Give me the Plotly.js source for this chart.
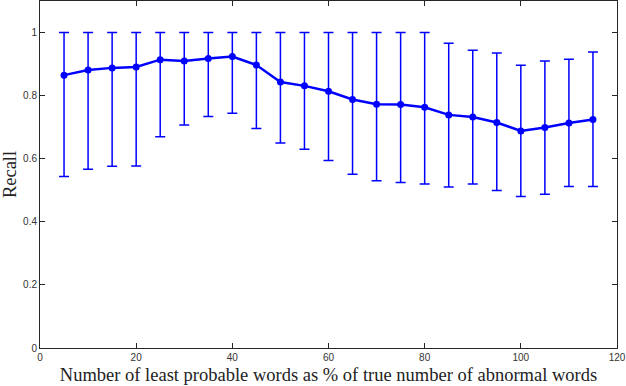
<!DOCTYPE html>
<html>
<head>
<meta charset="utf-8">
<script src="https://cdn.plot.ly/plotly-3.0.1.min.js"></script>
<style>
  html, body { margin: 0; padding: 0; background: #fff; }
  #plot { width: 626px; height: 386px; }
</style>
</head>
<body>
<div id="plot"></div>
<script>
const percentWords = [5, 10, 15, 20, 25, 30, 35, 40, 45, 50, 55, 60, 65, 70, 75, 80, 85, 90, 95, 100, 105, 110, 115];
const recallMean = [0.865, 0.881, 0.888, 0.891, 0.914, 0.910, 0.918, 0.924, 0.897, 0.843, 0.831, 0.814, 0.788, 0.773, 0.772, 0.763, 0.739, 0.732, 0.715, 0.688, 0.699, 0.713, 0.724];
const recallUpper = [1, 1, 1, 1, 1, 1, 1, 1, 1, 1, 1, 1, 1, 1, 1, 1, 0.966, 0.944, 0.935, 0.896, 0.910, 0.915, 0.938];
const recallLower = [0.544, 0.567, 0.576, 0.577, 0.670, 0.707, 0.734, 0.744, 0.696, 0.650, 0.630, 0.594, 0.551, 0.530, 0.525, 0.520, 0.510, 0.520, 0.499, 0.480, 0.487, 0.512, 0.512];

const errPlus = recallUpper.map((u, i) => u - recallMean[i]);
const errMinus = recallLower.map((l, i) => recallMean[i] - l);

const axisColor = "#262626";
const tickFont = { family: "Liberation Sans, Arial, sans-serif", size: 10, color: "#333" };
const titleFont = { family: "Liberation Serif, DejaVu Serif, serif", size: 18.5, color: "#222" };

const traces = [
    {
        x: percentWords,
        y: recallMean,
        type: "scatter",
        mode: "lines+markers",
        line: { color: "#0000ff", width: 2.5 },
        marker: { color: "#0000ff", size: 7 },
        error_y: {
            type: "data",
            symmetric: false,
            array: errPlus,
            arrayminus: errMinus,
            color: "#0000ff",
            thickness: 1.5,
            width: 5
        }
    }
];

const layout = {
    width: 626,
    height: 386,
    margin: { l: 40, r: 9, t: 1, b: 38 },
    paper_bgcolor: "#fff",
    plot_bgcolor: "#fff",
    showlegend: false,
    xaxis: {
        range: [0, 120],
        tickvals: [0, 20, 40, 60, 80, 100, 120],
        ticks: "inside",
        ticklen: 5,
        tickcolor: axisColor,
        showline: true,
        linecolor: axisColor,
        linewidth: 1,
        mirror: "ticks",
        showgrid: false,
        zeroline: false,
        tickfont: tickFont,
        title: { text: "Number of least probable words as % of true number of abnormal words", font: titleFont, standoff: 6 }
    },
    yaxis: {
        range: [0, 1.1],
        tickvals: [0, 0.2, 0.4, 0.6, 0.8, 1],
        ticktext: ["0", "0.2", "0.4", "0.6", "0.8", "1"],
        ticks: "inside",
        ticklen: 5,
        tickcolor: axisColor,
        showline: true,
        linecolor: axisColor,
        linewidth: 1,
        mirror: "ticks",
        showgrid: false,
        zeroline: false,
        tickfont: tickFont,
        title: { text: "Recall", font: titleFont, standoff: 6 }
    }
};

Plotly.newPlot("plot", traces, layout, { displayModeBar: false, staticPlot: true });
</script>
</body>
</html>
